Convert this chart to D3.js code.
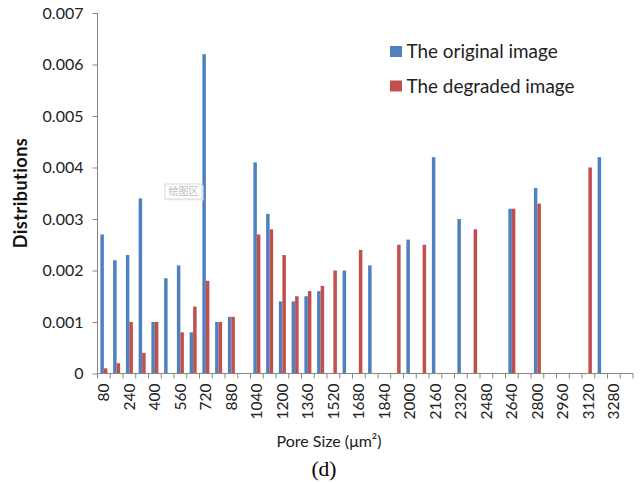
<!DOCTYPE html>
<html>
<head>
<meta charset="utf-8">
<script src="https://cdn.jsdelivr.net/npm/d3@7/dist/d3.min.js"></script>
<style>
  html, body { margin: 0; padding: 0; background: #fff; }
  svg { display: block; }
</style>
</head>
<body>
<svg id="chart" width="643" height="484"></svg>
<script>
// ---- data ----
const categories = [80,160,240,320,400,480,560,640,720,800,880,960,1040,1120,1200,1280,1360,1440,1520,1600,1680,1760,1840,1920,2000,2080,2160,2240,2320,2400,2480,2560,2640,2720,2800,2880,2960,3040,3120,3200,3280,3360];
const originalValues = [0.0027,0.0022,0.0023,0.0034,0.0010,0.00185,0.0021,0.0008,0.0062,0.0010,0.0011,0,0.0041,0.0031,0.0014,0.0014,0.0015,0.0016,0,0.0020,0,0.0021,0,0,0.0026,0,0.0042,0,0.0030,0,0,0,0.0032,0,0.0036,0,0,0,0,0.0042,0,0];
const degradedValues = [0.0001,0.0002,0.0010,0.0004,0.0010,0,0.0008,0.0013,0.0018,0.0010,0.0011,0,0.0027,0.0028,0.0023,0.0015,0.0016,0.0017,0.0020,0,0.0024,0,0,0.0025,0,0.0025,0,0,0,0.0028,0,0,0.0032,0,0.0033,0,0,0,0.0040,0,0,0];
const seriesNames = ["The original image", "The degraded image"];
const seriesColors = ["#4f81bd", "#c0504d"];
const yTicks = [0,0.001,0.002,0.003,0.004,0.005,0.006,0.007];
const xTickLabels = categories.filter((d, i) => i % 2 === 0);

// ---- layout ----
const svg = d3.select("#chart");
const plotLeft = 97.5, plotRight = 633, plotTop = 13, plotBottom = 373.5;
const axisColor = "#868686";
const font = "Lato, 'Open Sans', sans-serif";

const x = d3.scaleBand().domain(categories).range([plotLeft, plotRight]).padding(0);
const xs = d3.scaleBand().domain(seriesNames).range([0, x.bandwidth()]).paddingInner(0).paddingOuter(0.82);
const y = d3.scaleLinear().domain([0, 0.007]).range([plotBottom, plotTop]);

const data = categories.map((c, i) => ({ c, vals: [originalValues[i], degradedValues[i]] }));

// bars
const g = svg.append("g");
g.selectAll("g.cat").data(data).join("g")
  .attr("class", "cat")
  .attr("transform", d => `translate(${x(d.c)},0)`)
  .selectAll("rect").data(d => d.vals.map((v, k) => ({ v, k })).filter(e => e.v > 0)).join("rect")
  .attr("x", e => xs(seriesNames[e.k]))
  .attr("width", xs.bandwidth())
  .attr("y", e => y(e.v))
  .attr("height", e => y(0) - y(e.v))
  .attr("fill", e => seriesColors[e.k]);

// y axis
const yAxis = svg.append("g").attr("transform", `translate(${plotLeft},0)`)
  .call(d3.axisLeft(y).tickValues(yTicks).tickSize(5).tickPadding(9)
    .tickFormat(d => d === 0 ? "0" : d3.format(".3f")(d)));
yAxis.select(".domain").attr("stroke", axisColor).attr("d", `M0,${plotTop}V${plotBottom}`);
yAxis.selectAll(".tick line").attr("stroke", axisColor);
yAxis.selectAll(".tick text").attr("font-family", font).attr("font-size", 16).attr("fill", "#222");

// x axis
const xAxis = svg.append("g").attr("transform", `translate(0,${plotBottom})`)
  .call(d3.axisBottom(x).tickValues(xTickLabels).tickSize(0).tickPadding(0));
xAxis.select(".domain").attr("stroke", axisColor).attr("d", `M${plotLeft},0H${plotRight}`);
xAxis.selectAll(".tick text")
  .attr("font-family", font).attr("font-size", 15.5).attr("fill", "#222")
  .attr("transform", "rotate(-90)")
  .attr("text-anchor", "end")
  .attr("x", -10).attr("y", 0).attr("dy", "0.36em");
// tick marks at category boundaries
const boundaries = categories.map(c => x(c)).concat([x(categories[categories.length - 1]) + x.step()]);
xAxis.selectAll("line.bt").data(boundaries).join("line")
  .attr("class", "bt")
  .attr("x1", d => d).attr("x2", d => d)
  .attr("y1", 0).attr("y2", 5)
  .attr("stroke", axisColor);

// axis titles
svg.append("text")
  .attr("transform", "translate(27,193) rotate(-90)")
  .attr("text-anchor", "middle")
  .attr("font-family", font).attr("font-weight", "bold").attr("font-size", 18).attr("letter-spacing", 0.5).attr("fill", "#111")
  .text("Distributions");

svg.append("text")
  .attr("x", 329).attr("y", 447)
  .attr("text-anchor", "middle")
  .attr("font-family", font).attr("font-size", 16).attr("fill", "#222")
  .text("Pore Size (μm²)");

svg.append("text")
  .attr("x", 324).attr("y", 476)
  .attr("text-anchor", "middle")
  .attr("font-family", "'Liberation Serif', 'Times New Roman', serif").attr("font-size", 21.5).attr("fill", "#000")
  .text("(d)");

// legend
const legend = svg.append("g");
seriesNames.forEach((name, i) => {
  const ly = 51.5 + i * 34.5;
  legend.append("rect").attr("x", 390).attr("y", ly - 5.5).attr("width", 12).attr("height", 11).attr("fill", seriesColors[i]);
  legend.append("text").attr("x", 406.5).attr("y", ly).attr("dy", "0.35em")
    .attr("font-family", font).attr("font-size", 18.9).attr("fill", "#222").text(name);
});

// "Plot Area" hover tag present in the reference
const tag = svg.append("g").attr("transform", "translate(165,184)");
tag.append("rect").attr("x", 1.5).attr("y", 1.5).attr("width", 37).attr("height", 15).attr("fill", "#eeeeee");
tag.append("rect").attr("x", 0).attr("y", 0).attr("width", 37).attr("height", 15).attr("fill", "#fff").attr("stroke", "#d8d8d8");
tag.append("text").attr("x", 18.5).attr("y", 7.5).attr("dy", "0.36em").attr("text-anchor", "middle")
  .attr("font-family", "'Noto Sans CJK SC', sans-serif").attr("font-size", 10).attr("fill", "#bdbdbd").text("绘图区");
</script>
</body>
</html>
